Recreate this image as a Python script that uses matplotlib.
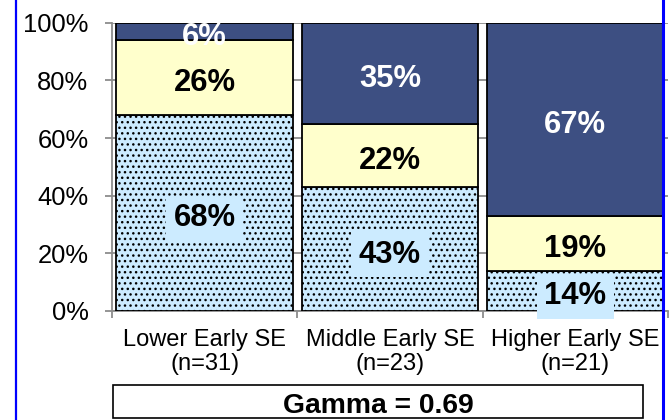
import matplotlib
matplotlib.use("Agg")
import matplotlib.pyplot as plt
from matplotlib.patches import Rectangle
from matplotlib.lines import Line2D
from matplotlib.transforms import ScaledTranslation
import numpy as np

plt.rcParams['font.family'] = ['Liberation Sans', 'DejaVu Sans']
plt.rcParams['hatch.linewidth'] = 1.0

categories = ["Lower Early SE\n(n=31)", "Middle Early SE\n(n=23)", "Higher Early SE\n(n=21)"]
low_vals = [68, 43, 14]
mid_vals = [26, 22, 19]
high_vals = [6, 35, 67]
gamma_text = "Gamma = 0.69"

c_low = "#CCEBFF"
c_mid = "#FFFFCC"
c_high = "#3D4F82"
grid_gray = "#8C8C8C"

W, H = 669, 420
fig = plt.figure(figsize=(W / 100, H / 100), dpi=100)
ax = fig.add_axes([112 / W, (H - 311) / H, (668 - 112) / W, (311 - 22.7) / H])

x = np.arange(len(categories))
bw = 0.955
low = np.array(low_vals, dtype=float)
mid = np.array(mid_vals, dtype=float)
high = np.array(high_vals, dtype=float)

ax.bar(x, low, width=bw, color=c_low, edgecolor="black", linewidth=1.3, hatch="...", zorder=3)
ax.bar(x, mid, width=bw, bottom=low, color=c_mid, edgecolor="black", linewidth=1.3, zorder=3)
ax.bar(x, high, width=bw, bottom=low + mid, color=c_high, edgecolor="black", linewidth=1.3, zorder=3)

lab_fs = 22.3
shift = ax.transData + ScaledTranslation(0, -2 / 100, fig.dpi_scale_trans)
for i in range(len(categories)):
    ax.text(x[i], low[i] / 2, f"{low_vals[i]}%", ha="center", va="center_baseline", fontsize=lab_fs,
            fontweight="bold", color="black", zorder=5, transform=shift,
            bbox=dict(boxstyle="square,pad=0.25", facecolor=c_low, edgecolor="none"))
    ax.text(x[i], low[i] + mid[i] / 2, f"{mid_vals[i]}%", ha="center", va="center_baseline",
            fontsize=lab_fs, fontweight="bold", color="black", zorder=5, transform=shift)
    ax.text(x[i], low[i] + mid[i] + high[i] / 2, f"{high_vals[i]}%", ha="center", va="center_baseline",
            fontsize=lab_fs, fontweight="bold", color="white", zorder=5, transform=shift)

ax.set_xlim(-0.5, 2.5)
ax.set_ylim(0, 100)
ax.set_yticks([0, 20, 40, 60, 80, 100])
ax.set_yticklabels(["0%", "20%", "40%", "60%", "80%", "100%"])
ax.yaxis.grid(True, color=grid_gray, linewidth=1.3, zorder=0)
ax.set_axisbelow(True)

ax.set_xticks(x)
ax.set_xticklabels(categories, fontsize=17, linespacing=1.12)
ax.set_xticks([-0.5, 0.5, 1.5, 2.5], minor=True)
ax.tick_params(axis="x", which="major", length=0, pad=13)
ax.tick_params(axis="x", which="minor", length=5, width=1.3, color=grid_gray, direction="out")
ax.tick_params(axis="y", which="major", length=5, width=1.3, color=grid_gray, direction="out",
               labelsize=18.4, pad=12)

for s in ["top", "right"]:
    ax.spines[s].set_visible(False)
for s in ["left", "bottom"]:
    ax.spines[s].set_color(grid_gray)
    ax.spines[s].set_linewidth(1.3)

# Gamma box
fig.patches.append(Rectangle((113 / W, 2 / H), (643 - 113) / W, 33 / H, transform=fig.transFigure,
                             facecolor="white", edgecolor="black", linewidth=1.2))
fig.text(378 / W, (H - 413.3) / H, gamma_text, ha="center", va="baseline", fontsize=20.3,
         fontweight="bold", color="black")

# Blue frame lines
fig.lines.append(Line2D([16 / W, 16 / W], [0, 1], transform=fig.transFigure, color="#0000FF", linewidth=1.6))
fig.lines.append(Line2D([662.5 / W, 662.5 / W], [0, 1], transform=fig.transFigure, color="#0000FF", linewidth=2.2))

fig.savefig("out.png", dpi=100)
